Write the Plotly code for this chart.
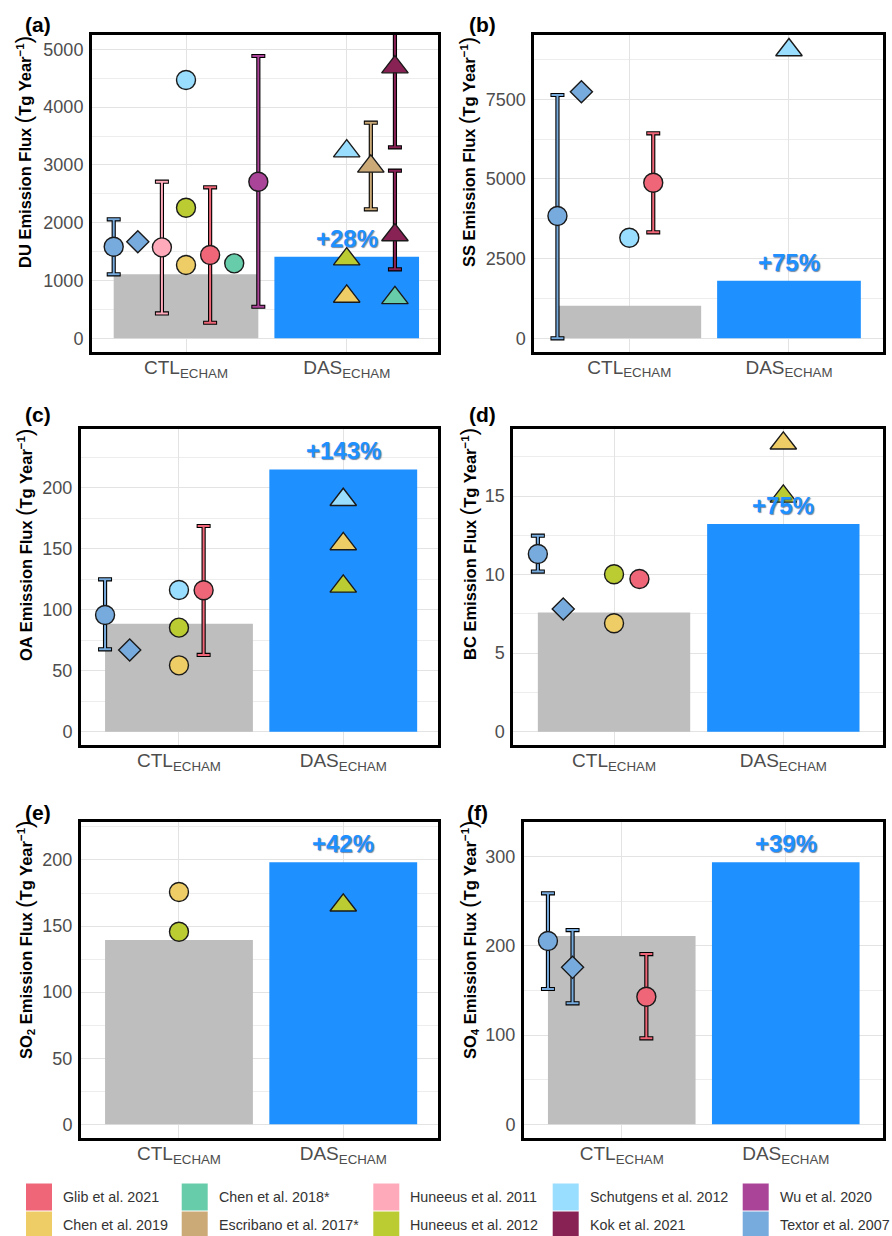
import plotly.graph_objects as go

# ---------------- data ----------------
exp_names = ["CTL", "DAS"]
exp_ticks = ["CTL<sub>ECHAM</sub>", "DAS<sub>ECHAM</sub>"]

studies = ["Glib et al. 2021", "Chen et al. 2019", "Chen et al. 2018*", "Escribano et al. 2017*",
           "Huneeus et al. 2011", "Huneeus et al. 2012", "Schutgens et al. 2012", "Kok et al. 2021",
           "Wu et al. 2020", "Textor et al. 2007"]
study_colors = ["#EE6677", "#EECC66", "#66CCAA", "#CCAA77", "#FFAABB",
                "#BBCC33", "#99DDFF", "#882255", "#AA4499", "#77AADD"]

# (a) DU
du_bar = [1107, 1412]
du_change = "+28%"
du_study = ["Textor et al. 2007", "Textor et al. 2007", "Huneeus et al. 2011", "Schutgens et al. 2012",
            "Huneeus et al. 2012", "Chen et al. 2019", "Glib et al. 2021", "Chen et al. 2018*", "Wu et al. 2020",
            "Schutgens et al. 2012", "Huneeus et al. 2012", "Chen et al. 2019", "Escribano et al. 2017*",
            "Kok et al. 2021", "Kok et al. 2021", "Chen et al. 2018*"]
du_exp = ["CTL", "CTL", "CTL", "CTL", "CTL", "CTL", "CTL", "CTL", "CTL",
          "DAS", "DAS", "DAS", "DAS", "DAS", "DAS", "DAS"]
du_stat = ["mean", "median", "mean", "mean", "mean", "mean", "mean", "mean", "mean",
           "mean", "mean", "mean", "mean", "mean", "mean", "mean"]
du_value = [1585, 1671, 1574, 4469, 2260, 1268, 1441, 1297, 2710,
            3239, 1370, 725, 2974, 4692, 1787, 701]
du_low = [1107, None, 432, None, None, None, 270, None, 547,
          None, None, None, 2232, 3304, 1194, None]
du_high = [2059, None, 2710, None, None, None, 2612, None, 4884,
           None, None, None, 3730, 5600, 2900, None]

# (b) SS
ss_bar = [1023, 1807]
ss_change = "+75%"
ss_study = ["Textor et al. 2007", "Textor et al. 2007", "Schutgens et al. 2012", "Glib et al. 2021",
            "Schutgens et al. 2012"]
ss_exp = ["CTL", "CTL", "CTL", "CTL", "DAS"]
ss_stat = ["mean", "median", "mean", "mean", "mean"]
ss_value = [3838, 7738, 3157, 4882, 9046]
ss_low = [0, None, None, 3326, None]
ss_high = [7634, None, None, 6432, None]

# (c) OA
oa_bar = [88.5, 215]
oa_change = "+143%"
oa_study = ["Textor et al. 2007", "Textor et al. 2007", "Schutgens et al. 2012", "Huneeus et al. 2012",
            "Chen et al. 2019", "Glib et al. 2021",
            "Schutgens et al. 2012", "Chen et al. 2019", "Huneeus et al. 2012"]
oa_exp = ["CTL", "CTL", "CTL", "CTL", "CTL", "CTL", "DAS", "DAS", "DAS"]
oa_stat = ["mean", "median", "mean", "mean", "mean", "mean", "mean", "mean", "mean"]
oa_value = [95.6, 67, 116.1, 85.3, 54.4, 115.9, 190.1, 153.9, 119.1]
oa_low = [67.5, None, None, None, None, 62.9, None, None, None]
oa_high = [124.9, None, None, None, None, 168.6, None, None, None]

# (d) BC
bc_bar = [7.58, 13.22]
bc_change = "+75%"
bc_study = ["Textor et al. 2007", "Textor et al. 2007", "Huneeus et al. 2012", "Chen et al. 2019",
            "Glib et al. 2021", "Chen et al. 2019", "Huneeus et al. 2012"]
bc_exp = ["CTL", "CTL", "CTL", "CTL", "CTL", "DAS", "DAS"]
bc_stat = ["mean", "median", "mean", "mean", "mean", "mean", "mean"]
bc_value = [11.31, 7.81, 10.02, 6.9, 9.72, 18.36, 14.98]
bc_low = [10.19, None, None, None, None, None, None]
bc_high = [12.48, None, None, None, None, None, None]

# (e) SO2
so2_bar = [139.4, 198.2]
so2_change = "+42%"
so2_study = ["Chen et al. 2019", "Huneeus et al. 2012", "Huneeus et al. 2012"]
so2_exp = ["CTL", "CTL", "DAS"]
so2_stat = ["mean", "mean", "mean"]
so2_value = [175.8, 145.7, 165.7]
so2_low = [None, None, None]
so2_high = [None, None, None]

# (f) SO4
so4_bar = [211.1, 293.7]
so4_change = "+39%"
so4_study = ["Textor et al. 2007", "Textor et al. 2007", "Glib et al. 2021"]
so4_exp = ["CTL", "CTL", "CTL"]
so4_stat = ["mean", "median", "mean"]
so4_value = [205.5, 176, 143]
so4_low = [151.7, 135.6, 96.4]
so4_high = [259, 217.8, 190.9]

# ---------------- styling / layout ----------------
W, H = 892, 1236
FONT = "Liberation Sans"
BAR_COLORS = ["#BEBEBE", "#1E90FF"]
color_of = dict(zip(studies, study_colors))

# horizontal dodge per study (position style)
dodge = {("Textor et al. 2007", "mean"): -0.45, ("Textor et al. 2007", "median"): -0.30,
         "Huneeus et al. 2011": -0.15, "Glib et al. 2021": 0.15, "Escribano et al. 2017*": 0.15,
         "Chen et al. 2018*": 0.30, "Kok et al. 2021": 0.30, "Wu et al. 2020": 0.45}

def px_x(v):
    return v / W

def px_y(v):
    return 1 - v / H

panels = [
    dict(tag="(a)", species="DU", bar=du_bar, change=du_change, study=du_study, exp=du_exp, stat=du_stat,
         value=du_value, low=du_low, high=du_high, box=(92, 438, 35, 352), xr=[0.415, 2.568],
         yr=[-236, 5247], dtick=1000, minor=500, title_xy=(24, 152), tag_xy=(38, 25)),
    dict(tag="(b)", species="SS", bar=ss_bar, change=ss_change, study=ss_study, exp=ss_exp, stat=ss_stat,
         value=ss_value, low=ss_low, high=ss_high, box=(534.3, 882.7, 35, 351.7), xr=[0.405, 2.587],
         yr=[-420, 9517], dtick=2500, minor=1250, title_xy=(468, 152), tag_xy=(482, 25)),
    dict(tag="(c)", species="OA", bar=oa_bar, change=oa_change, study=oa_study, exp=oa_exp, stat=oa_stat,
         value=oa_value, low=oa_low, high=oa_high, box=(81, 437.7, 429, 745), xr=[0.4035, 2.575],
         yr=[-10.9, 248.1], dtick=50, minor=25, title_xy=(24, 545), tag_xy=(38, 414)),
    dict(tag="(d)", species="BC", bar=bc_bar, change=bc_change, study=bc_study, exp=bc_exp, stat=bc_stat,
         value=bc_value, low=bc_low, high=bc_high, box=(513.3, 882.7, 429, 745), xr=[0.405, 2.587],
         yr=[-0.85, 19.27], dtick=5, minor=2.5, title_xy=(468, 544), tag_xy=(482, 414)),
    dict(tag="(e)", species="SO<sub>2</sub>", bar=so2_bar, change=so2_change, study=so2_study, exp=so2_exp,
         stat=so2_stat, value=so2_value, low=so2_low, high=so2_high, box=(81, 437.7, 822.3, 1138.3),
         xr=[0.4035, 2.575], yr=[-10.6, 228.5], dtick=50, minor=25, title_xy=(24, 940), tag_xy=(38, 812)),
    dict(tag="(f)", species="SO<sub>4</sub>", bar=so4_bar, change=so4_change, study=so4_study, exp=so4_exp,
         stat=so4_stat, value=so4_value, low=so4_low, high=so4_high, box=(524, 882.7, 822.3, 1138.3),
         xr=[0.404, 2.591], yr=[-15.7, 338.6], dtick=100, minor=50, title_xy=(468, 940), tag_xy=(477, 812)),
]

fig = go.Figure()
annotations = []
shapes = []

for i, p in enumerate(panels):
    n = i + 1
    xa = "x" if n == 1 else f"x{n}"
    ya = "y" if n == 1 else f"y{n}"
    xkey = "xaxis" if n == 1 else f"xaxis{n}"
    ykey = "yaxis" if n == 1 else f"yaxis{n}"
    x0, x1, y0, y1 = p["box"]

    # bars
    fig.add_trace(go.Bar(x=[1, 2], y=p["bar"], width=0.9, marker=dict(color=BAR_COLORS, line=dict(width=0)),
                         xaxis=xa, yaxis=ya, showlegend=False, hoverinfo="y"))

    xs, syms, cols, sizes = [], [], [], []
    for s, e, st, v in zip(p["study"], p["exp"], p["stat"], p["value"]):
        off = dodge.get((s, st), dodge.get(s, 0.0))
        xs.append(exp_names.index(e) + 1 + off)
        if e == "DAS":
            syms.append("triangle-up"); sizes.append(23)
        elif st == "median":
            syms.append("diamond"); sizes.append(17)
        else:
            syms.append("circle"); sizes.append(19)
        cols.append(color_of[s])

    # error bars: black outline then colored
    for layer in ("outline", "fill"):
        for xv, s, v, lo, hi in zip(xs, p["study"], p["value"], p["low"], p["high"]):
            if lo is None:
                continue
            if layer == "outline":
                eb = dict(type="data", symmetric=False, array=[hi - v], arrayminus=[v - lo],
                          color="black", thickness=4.2, width=7)
            else:
                eb = dict(type="data", symmetric=False, array=[hi - v], arrayminus=[v - lo],
                          color=color_of[s], thickness=2, width=6)
            fig.add_trace(go.Scatter(x=[xv], y=[v], mode="markers",
                                     marker=dict(color="rgba(0,0,0,0)", size=1),
                                     error_y=eb, xaxis=xa, yaxis=ya, showlegend=False, hoverinfo="skip"))

    # points
    fig.add_trace(go.Scatter(x=xs, y=p["value"], mode="markers",
                             marker=dict(symbol=syms, color=cols, size=sizes, opacity=1,
                                         line=dict(color="#1a1a1a", width=1.4)),
                             text=p["study"], xaxis=xa, yaxis=ya, showlegend=False))

    fig.layout[xkey] = dict(domain=[px_x(x0), px_x(x1)], range=p["xr"], anchor=ya,
                            tickvals=[1, 2], ticktext=exp_ticks, showgrid=True, gridcolor="#E3E3E3",
                            gridwidth=1, zeroline=False, showline=True, mirror=True, linecolor="black",
                            linewidth=3, ticks="", ticklabelstandoff=-4,
                            tickfont=dict(family=FONT, size=19, color="#4D4D4D"))
    fig.layout[ykey] = dict(domain=[px_y(y1), px_y(y0)], range=p["yr"], anchor=xa,
                            dtick=p["dtick"], tick0=0, showgrid=True, gridcolor="#E3E3E3", gridwidth=1,
                            minor=dict(dtick=p["minor"], tick0=0, showgrid=True, gridcolor="#EDEDED",
                                       gridwidth=1),
                            zeroline=False, showline=True, mirror=True, linecolor="black", linewidth=3,
                            ticks="", ticklabelstandoff=2,
                            tickfont=dict(family=FONT, size=18, color="#4D4D4D"))

    # percentage label
    annotations.append(dict(x=2, y=p["bar"][1], xref=xa, yref=ya, text=f"<b>{p['change']}</b>",
                            showarrow=False, yanchor="bottom", yshift=3,
                            font=dict(family=FONT, size=24, color="#1E90FF",
                                      shadow="1px 1px 1px rgba(10,40,90,0.55)")))
    # y title
    tx, ty = p["title_xy"]
    annotations.append(dict(x=px_x(tx), y=px_y(ty), xref="paper", yref="paper", textangle=-90,
                            xanchor="center", yanchor="middle", showarrow=False,
                            text=(f"<b>{p['species']} Emission Flux </b><span style='font-size:22px'>(</span>"
                                  f"<b>Tg Year<sup>\u22121</sup></b><span style='font-size:22px'>)</span>"),
                            font=dict(family=FONT, size=16.5, color="black")))
    # panel tag
    gx, gy = p["tag_xy"]
    annotations.append(dict(x=px_x(gx), y=px_y(gy), xref="paper", yref="paper", text=f"<b>{p['tag']}</b>",
                            showarrow=False, xanchor="center", yanchor="middle",
                            font=dict(family=FONT, size=21, color="black")))

# legend (column-major, 2 rows x 5 columns)
col_x = [26, 181.7, 373.3, 552.7, 742.7]
row_y = [1197, 1225]
for k, (s, c) in enumerate(zip(studies, study_colors)):
    cx = col_x[k // 2]
    cy = row_y[k % 2]
    shapes.append(dict(type="rect", xref="paper", yref="paper", x0=px_x(cx), x1=px_x(cx + 26),
                       y0=px_y(cy + 13.5), y1=px_y(cy - 13.5), fillcolor=c, line=dict(width=0)))
    annotations.append(dict(x=px_x(cx + 35), y=px_y(cy), xref="paper", yref="paper", text=s,
                            showarrow=False, xanchor="left", yanchor="middle",
                            font=dict(family=FONT, size=14.3, color="#333333")))

fig.update_layout(width=W, height=H, autosize=False, margin=dict(l=0, r=0, t=0, b=0),
                  paper_bgcolor="white", plot_bgcolor="white", showlegend=False,
                  annotations=annotations, shapes=shapes, barmode="overlay",
                  font=dict(family=FONT))

fig.write_html("out.html", config={"displayModeBar": False},
               post_script="document.body.style.margin='0';document.body.style.overflow='hidden';")
